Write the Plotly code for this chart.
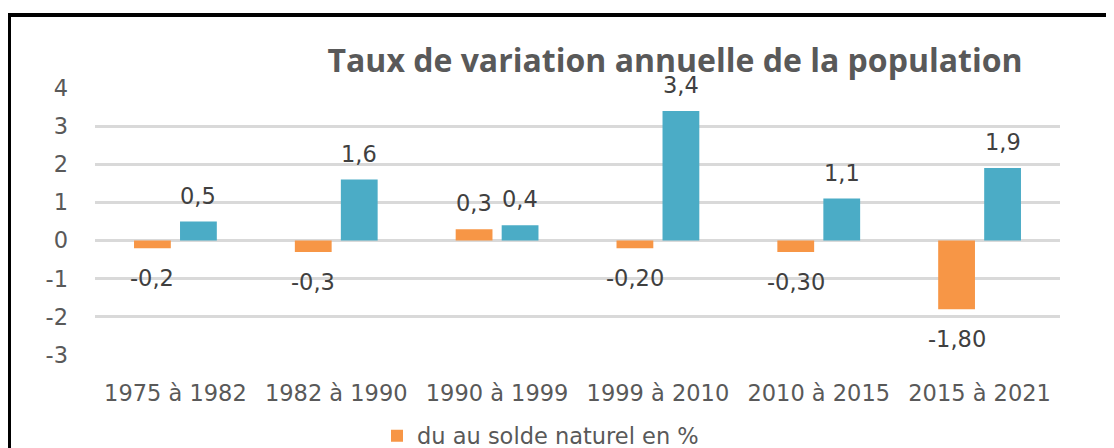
import plotly.graph_objects as go

# ---- data ----
categories = ["1975 à 1982", "1982 à 1990", "1990 à 1999", "1999 à 2010", "2010 à 2015", "2015 à 2021"]
naturel = [-0.2, -0.3, 0.3, -0.2, -0.3, -1.8]
naturel_labels = ["-0,2", "-0,3", "0,3", "-0,20", "-0,30", "-1,80"]
migratoire = [0.5, 1.6, 0.4, 3.4, 1.1, 1.9]
migratoire_labels = ["0,5", "1,6", "0,4", "3,4", "1,1", "1,9"]
y_ticks = [-3, -2, -1, 0, 1, 2, 3, 4]

title_text = "Taux de variation annuelle de la population"
name_naturel = "du au solde naturel en %"
name_migratoire = "du au solde migratoire en %"

# ---- layout geometry (page body has an 8px margin) ----
OFF = 8
W, H = 1114 - OFF, 448 - OFF
L, R, T, B = 95 - OFF, 54, 88 - OFF, 93
PW, PH = W - L - R, H - T - B


def fx(px):  # page pixel -> paper x
    return (px - OFF - L) / PW


def fy(py):  # page pixel -> paper y
    return (H - B - (py - OFF)) / PH


ORANGE = "#F79646"
BLUE = "#4BACC6"
FONT = "DejaVu Sans"
FS = 22.5

fig = go.Figure()
fig.add_trace(go.Bar(x=categories, y=naturel, name=name_naturel,
                     marker=dict(color=ORANGE, line=dict(width=0)), showlegend=True))
fig.add_trace(go.Bar(x=categories, y=migratoire, name=name_migratoire,
                     marker=dict(color=BLUE, line=dict(width=0)), showlegend=False))

annotations = []
for series, labels, dx in ((naturel, naturel_labels, -23), (migratoire, migratoire_labels, 23)):
    for c, v, t in zip(categories, series, labels):
        annotations.append(dict(
            x=c, y=v, xref="x", yref="y", text=t, showarrow=False,
            xshift=dx, yshift=(26 if v >= 0 else -30),
            xanchor="center", yanchor="middle",
            font=dict(family=FONT, size=FS, color="#404040")))

fig.update_layout(
    width=W, height=H,
    margin=dict(l=L, r=R, t=T, b=B, pad=0, autoexpand=False),
    paper_bgcolor="white", plot_bgcolor="white",
    barmode="group", bargap=0.428, bargroupgap=0.2,
    title=dict(text="<b>" + title_text + "</b>", x=(675 - OFF) / W, xanchor="center",
               xref="container", y=1 - (61 - OFF) / H, yref="container",
               yanchor="middle",
               font=dict(family="Open Sans", size=32, color="#595959")),
    xaxis=dict(showgrid=False, showline=False, zeroline=False, ticks="",
               tickfont=dict(family=FONT, size=FS, color="#595959"),
               ticklabelstandoff=22),
    yaxis=dict(range=[-3, 4], tickvals=y_ticks, ticktext=[str(v) for v in y_ticks],
               showgrid=True, gridcolor="#D9D9D9", gridwidth=2.5,
               zeroline=False, showline=False, ticks="",
               tickfont=dict(family=FONT, size=FS, color="#595959"),
               ticklabelstandoff=26),
    legend=dict(orientation="h", x=fx(377), xanchor="left", y=fy(436), yanchor="middle",
                font=dict(family=FONT, size=FS, color="#595959"),
                bgcolor="rgba(0,0,0,0)"),
    annotations=annotations,
    shapes=[
        dict(type="line", xref="paper", yref="paper", x0=fx(8), x1=fx(1130),
             y0=fy(15), y1=fy(15), line=dict(color="black", width=4)),
        dict(type="line", xref="paper", yref="paper", x0=fx(9.5), x1=fx(9.5),
             y0=fy(13), y1=fy(470), line=dict(color="black", width=3)),
    ],
)

fig.write_html("out.html")
